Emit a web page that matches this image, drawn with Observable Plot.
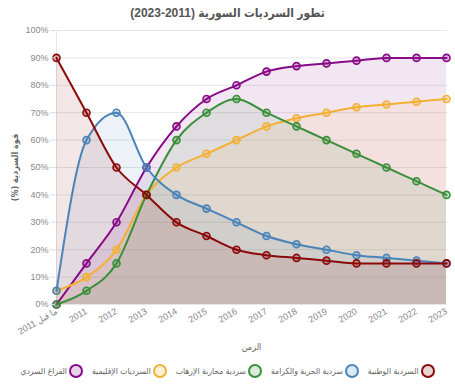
<!DOCTYPE html>
<html>
<head>
<meta charset="utf-8">
<script src="https://cdn.jsdelivr.net/npm/d3@7"></script>
<script src="https://cdn.jsdelivr.net/npm/@observablehq/plot@0.6"></script>
<style>
  html, body { margin: 0; padding: 0; background: #fff; }
  body { width: 455px; height: 385px; overflow: hidden; font-family: "Liberation Sans", "DejaVu Sans", Arial, sans-serif; }
  #title { height: 24px; line-height: 26px; text-align: center; font-weight: bold; font-size: 12px; color: #555;
           font-family: "Liberation Sans", "DejaVu Sans Condensed", "DejaVu Sans", sans-serif; font-stretch: condensed; }
  #chart svg { display: block; }
  #legend { display: flex; justify-content: center; align-items: center; gap: 9px; margin-top: 4px; font-size: 8.5px; color: #666;
            font-family: "DejaVu Sans Condensed", "DejaVu Sans", sans-serif; font-stretch: condensed; white-space: nowrap; }
  .item { display: flex; align-items: center; gap: 2px; }
  .sw { width: 10px; height: 10px; border-radius: 50%; border: 2px solid; }
</style>
</head>
<body>
<div id="title" dir="rtl"></div>
<div id="chart"></div>
<div id="legend" dir="rtl"></div>
<script>
const titleText = "تطور السرديات السورية (2011-2023)";
const xTitle = "الزمن";
const yTitle = "قوة السردية (%)";
const categories = ["ما قبل 2011", "2011", "2012", "2013", "2014", "2015", "2016", "2017", "2018", "2019", "2020", "2021", "2022", "2023"];
const yTicks = [0, 10, 20, 30, 40, 50, 60, 70, 80, 90, 100];

const seriesNames = ["السردية الوطنية", "سردية الحرية والكرامة", "سردية محاربة الإرهاب", "السرديات الإقليمية", "الفراغ السردي"];
const seriesColors = ["#8b0a0a", "#4a84b8", "#3a8f3a", "#f2b134", "#870a87"];

const nationalValues   = [90, 70, 50, 40, 30, 25, 20, 18, 17, 16, 15, 15, 15, 15];
const freedomValues    = [5, 60, 70, 50, 40, 35, 30, 25, 22, 20, 18, 17, 16, 15];
const terrorismValues  = [0, 5, 15, 40, 60, 70, 75, 70, 65, 60, 55, 50, 45, 40];
const regionalValues   = [5, 10, 20, 40, 50, 55, 60, 65, 68, 70, 72, 73, 74, 75];
const vacuumValues     = [0, 15, 30, 50, 65, 75, 80, 85, 87, 88, 89, 90, 90, 90];

const allValues = [nationalValues, freedomValues, terrorismValues, regionalValues, vacuumValues];

document.getElementById("title").textContent = titleText;

const RLI = "\u2067", PDI = "\u2069";
const arabicFont = "\"DejaVu Sans Condensed\", \"DejaVu Sans\", sans-serif";

// drawing order: last series first so the first series sits on top
const order = [4, 3, 2, 1, 0];
const marks = [
  Plot.gridY(yTicks, {stroke: "#e6e6e6", strokeOpacity: 1}),
  Plot.ruleX([categories[0]], {stroke: "#e6e6e6"})
];
for (const i of order) {
  const data = categories.map((c, j) => ({x: c, y: allValues[i][j]}));
  marks.push(Plot.areaY(data, {x: "x", y: "y", fill: seriesColors[i], fillOpacity: 0.1, curve: "monotone-x"}));
}
for (const i of order) {
  const data = categories.map((c, j) => ({x: c, y: allValues[i][j]}));
  marks.push(Plot.lineY(data, {x: "x", y: "y", stroke: seriesColors[i], strokeWidth: 2, curve: "monotone-x"}));
  marks.push(Plot.dot(data, {x: "x", y: "y", r: 3.5, stroke: seriesColors[i], strokeWidth: 1.6, fill: seriesColors[i], fillOpacity: 0.3}));
}
marks.push(Plot.axisY({ticks: yTicks, tickFormat: d => d + "%", tickSize: 5, stroke: "#dddddd", fill: "#888", tickPadding: 2, label: null}));
marks.push(Plot.axisY({ticks: [], tickSize: 0, fill: "#666", label: RLI + yTitle + PDI, labelAnchor: "center", labelOffset: 44,
  labelArrow: "none", fontWeight: "bold", fontFamily: arabicFont}));
marks.push(Plot.axisX({tickRotate: -30, tickSize: 0, tickPadding: 6, fill: "#888", tickFormat: d => RLI + d + PDI, label: null}));
marks.push(Plot.axisX({ticks: [], tickSize: 0, fill: "#666", label: xTitle, labelAnchor: "center", labelOffset: 45,
  labelArrow: "none", fontFamily: arabicFont}));

const chart = Plot.plot({
  width: 455,
  height: 336,
  marginLeft: 55,
  marginRight: 8,
  marginTop: 6,
  marginBottom: 56,
  style: {fontSize: "9px", fontFamily: "\"Liberation Sans\", \"DejaVu Sans Condensed\", \"DejaVu Sans\", Arial, sans-serif", color: "#666", background: "#fff"},
  x: {type: "point", domain: categories, padding: 0},
  y: {domain: [0, 100]},
  marks
});
document.getElementById("chart").appendChild(chart);

const legend = document.getElementById("legend");
seriesNames.forEach((name, i) => {
  const item = document.createElement("div");
  item.className = "item";
  const sw = document.createElement("span");
  sw.className = "sw";
  sw.style.borderColor = seriesColors[i];
  sw.style.background = d3.color(seriesColors[i]).copy({opacity: 0.18}).formatRgb();
  const t = document.createElement("span");
  t.textContent = name;
  item.appendChild(sw);
  item.appendChild(t);
  legend.appendChild(item);
});
</script>
</body>
</html>
